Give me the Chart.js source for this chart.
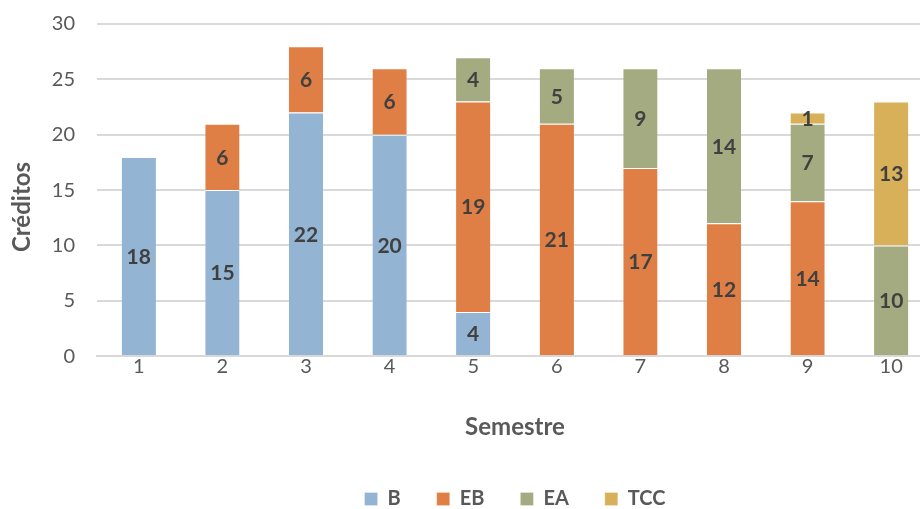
<!DOCTYPE html>
<html>
<head>
<meta charset="utf-8">
<script src="https://cdn.jsdelivr.net/npm/chart.js@4.4.0/dist/chart.umd.min.js"></script>
<style>
  html, body { margin: 0; padding: 0; background: #fff; overflow: hidden; }
  #wrap { width: 920px; height: 509px; overflow: hidden; }
</style>
</head>
<body>
<div id="wrap"><canvas id="chart" width="1030" height="519"></canvas></div>
<script>
const semestres = ['1', '2', '3', '4', '5', '6', '7', '8', '9', '10'];
const valB   = [18, 15, 22, 20, 4, null, null, null, null, null];
const valEB  = [null, 6, 6, 6, 19, 21, 17, 12, 14, null];
const valEA  = [null, null, null, null, 4, 5, 9, 14, 7, 10];
const valTCC = [null, null, null, null, null, null, null, null, 1, 13];
const yTicks = [0, 5, 10, 15, 20, 25, 30];

const FONT = 'Lato, "Liberation Sans", sans-serif';
const txt = '#595959';

// draws the number in the middle of each segment
const segLabels = {
  id: 'segLabels',
  afterDatasetsDraw(chart) {
    const c = chart.ctx;
    c.save();
    c.font = 'bold 21px ' + FONT;
    c.fillStyle = '#404040';
    c.textAlign = 'center';
    c.textBaseline = 'middle';
    chart.data.datasets.forEach((ds, i) => {
      chart.getDatasetMeta(i).data.forEach((bar, j) => {
        const v = ds.data[j];
        if (!v) return;
        c.fillText(String(v), bar.x, (bar.y + bar.base) / 2 + 1);
      });
    });
    c.restore();
  },
  afterDraw(chart) {
    // y axis title, placed like the original
    const c = chart.ctx;
    c.save();
    c.font = 'bold 24px ' + FONT;
    c.fillStyle = txt;
    c.textAlign = 'center';
    c.textBaseline = 'middle';
    c.translate(22, 207);
    c.rotate(-Math.PI / 2);
    c.fillText('Créditos', 0, 0);
    c.restore();
  }
};

function mk(label, data, color) {
  return {
    label: label,
    data: data,
    backgroundColor: color,
    borderColor: '#ffffff',
    borderWidth: { top: 1, left: 0, right: 0, bottom: 0 },
    borderSkipped: false,
    categoryPercentage: 0.41,
    barPercentage: 1
  };
}

new Chart(document.getElementById('chart'), {
  type: 'bar',
  data: {
    labels: semestres,
    datasets: [
      mk('B', valB, '#93b4d3'),
      mk('EB', valEB, '#df7f45'),
      mk('EA', valEA, '#a5ab80'),
      mk('TCC', valTCC, '#d8b05a')
    ]
  },
  options: {
    responsive: false,
    animation: false,
    devicePixelRatio: 1,
    layout: { padding: { top: 24, bottom: 0 } },
    plugins: {
      tooltip: { enabled: false },
      legend: {
        position: 'bottom',
        labels: {
          boxWidth: 13,
          boxHeight: 13,
          padding: 36,
          color: txt,
          font: { family: FONT, size: 20, weight: 'bold' }
        }
      }
    },
    scales: {
      x: {
        stacked: true,
        grid: { display: false, drawTicks: false },
        border: { color: '#d9d9d9', width: 2 },
        ticks: { color: txt, padding: 0, font: { family: FONT, size: 20, lineHeight: 1 } },
        title: {
          display: true,
          text: 'Semestre',
          color: txt,
          padding: { top: 37, bottom: 11 },
          font: { family: FONT, size: 24, weight: 'bold' }
        }
      },
      y: {
        stacked: true,
        min: 0,
        max: 30,
        afterBuildTicks: s => { s.ticks = yTicks.map(v => ({ value: v })); },
        afterFit: s => { s.width = 97; s.paddingTop = 0; s.paddingBottom = 0; },
        grid: { color: '#d9d9d9', lineWidth: 2, drawTicks: false },
        border: { display: false },
        ticks: { color: txt, padding: 22, font: { family: FONT, size: 20 } }
      },
      y2: {
        position: 'right',
        display: true,
        grid: { display: false },
        border: { display: false },
        ticks: { display: false },
        afterFit: s => { s.width = 97; s.paddingTop = 0; s.paddingBottom = 0; }
      }
    }
  },
  plugins: [segLabels]
});
</script>
</body>
</html>
